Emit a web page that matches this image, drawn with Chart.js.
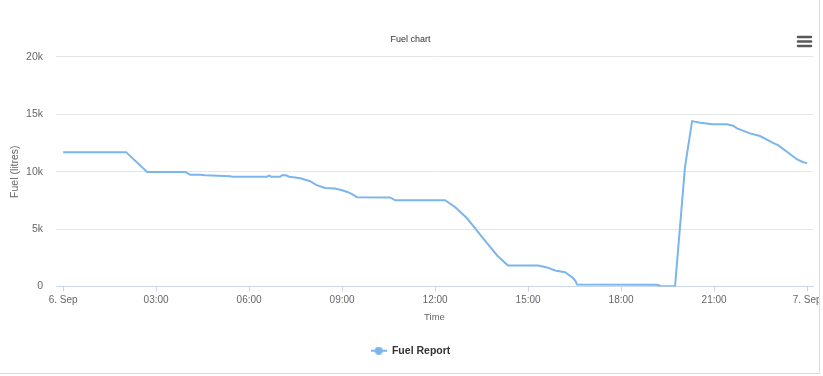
<!DOCTYPE html>
<html>
<head>
<meta charset="utf-8">
<script src="https://cdn.jsdelivr.net/npm/chart.js@4"></script>
<style>
  body { margin: 0; background: #fff; }
  #wrap { width: 819px; height: 373px; border-right: 1px solid #dcdcdc; border-bottom: 1px solid #dcdcdc; }
</style>
</head>
<body>
<div id="wrap"><canvas id="fuelChart" width="819" height="373"></canvas></div>
<script>
// Hours since 6 Sep 00:00 and fuel level (litres)
const hours = [
  0, 2.03, 2.71, 3.94, 4.10, 4.42, 4.58, 5.39, 5.45, 6.58, 6.65, 6.71, 7.0, 7.06, 7.19, 7.29,
  7.42, 7.65, 7.97, 8.16, 8.45, 8.77, 9.0, 9.19, 9.32, 9.48, 10.55, 10.71, 12.32, 12.65,
  13.03, 13.55, 14.0, 14.35, 15.32, 15.61, 15.87, 16.19, 16.42, 16.52, 16.58, 19.16, 19.29,
  19.74, 20.06, 20.29, 20.55, 20.94, 21.42, 21.61, 21.74, 22.16, 22.48, 22.9, 23.06, 23.35,
  23.68, 23.84, 24.0
];
const fuel = [
  11700, 11700, 9980, 9980, 9720, 9720, 9680, 9600, 9560, 9560, 9650, 9560, 9560, 9680, 9680, 9560,
  9520, 9420, 9170, 8850, 8580, 8540, 8380, 8210, 8040, 7780, 7760, 7510, 7510, 6900,
  5940, 4190, 2700, 1830, 1830, 1660, 1400, 1250, 810, 520, 170, 150, 30,
  30, 10390, 14400, 14260, 14120, 14120, 14000, 13770, 13330, 13100, 12510, 12310, 11730,
  11060, 10860, 10720
];

// Trục thời gian
const tickHours = [0, 3, 6, 9, 12, 15, 18, 21, 24];
const tickLabels = ['6. Sep', '03:00', '06:00', '09:00', '12:00', '15:00', '18:00', '21:00', '7. Sep'];

const lineColor = '#7cb5ec';
const fontFamily = '"Liberation Sans", Arial, Helvetica, sans-serif';

// Ký hiệu chú giải: đường kẻ + chấm tròn
const legendSymbol = document.createElement('canvas');
legendSymbol.width = 16;
legendSymbol.height = 8;
(function () {
  const c = legendSymbol.getContext('2d');
  c.strokeStyle = lineColor;
  c.lineWidth = 2;
  c.beginPath();
  c.moveTo(0, 4);
  c.lineTo(16, 4);
  c.stroke();
  c.fillStyle = lineColor;
  c.beginPath();
  c.arc(8, 4, 4, 0, Math.PI * 2);
  c.fill();
})();

// Nút menu (3 gạch)
const menuIcon = {
  id: 'menuIcon',
  afterDraw(chart) {
    const ctx = chart.ctx;
    ctx.save();
    ctx.strokeStyle = '#595959';
    ctx.lineWidth = 2.5;
    ctx.lineCap = 'round';
    [37, 41.5, 46].forEach(y => {
      ctx.beginPath();
      ctx.moveTo(798, y);
      ctx.lineTo(811, y);
      ctx.stroke();
    });
    ctx.restore();
  }
};

new Chart(document.getElementById('fuelChart'), {
  type: 'line',
  data: {
    datasets: [{
      label: 'Fuel Report',
      data: hours.map((h, i) => ({ x: h, y: fuel[i] })),
      borderColor: lineColor,
      backgroundColor: lineColor,
      borderWidth: 2,
      pointRadius: 0,
      tension: 0
    }]
  },
  options: {
    responsive: false,
    animation: false,
    layout: { padding: { left: 8, right: 6, top: 0, bottom: 7 } },
    plugins: {
      title: {
        display: true,
        text: 'Fuel chart',
        color: '#333',
        font: { family: fontFamily, size: 9, weight: 'normal' },
        padding: { top: 34, bottom: 12 }
      },
      legend: {
        position: 'bottom',
        labels: {
          usePointStyle: true,
          pointStyle: legendSymbol,
          pointStyleWidth: 16,
          padding: 22,
          color: '#333',
          font: { family: fontFamily, size: 10.5, weight: 'bold' }
        }
      },
      tooltip: { enabled: false }
    },
    scales: {
      x: {
        type: 'linear',
        min: -0.23,
        max: 24.19,
        afterBuildTicks: axis => { axis.ticks = tickHours.map(v => ({ value: v })); },
        afterFit: axis => { axis.height = 37; axis.paddingLeft = 0; axis.paddingRight = 0; },
        grid: { drawOnChartArea: false, drawTicks: true, tickLength: 5, color: '#ccd6eb' },
        border: { color: '#ccd6eb', width: 1 },
        ticks: {
          maxRotation: 0,
          autoSkip: false,
          padding: 3,
          color: '#666',
          font: { family: fontFamily, size: 10 },
          callback: v => tickLabels[tickHours.indexOf(v)]
        },
        title: {
          display: true,
          text: 'Time',
          color: '#666',
          font: { family: fontFamily, size: 9.5 },
          padding: { top: 0, bottom: 0 }
        }
      },
      y: {
        min: 0,
        max: 20000,
        afterFit: axis => { axis.width = 48; axis.paddingTop = 0; axis.paddingBottom = 0; },
        grid: { color: '#e6e6e6', drawTicks: false },
        border: { display: false },
        ticks: {
          stepSize: 5000,
          padding: 13,
          color: '#666',
          font: { family: fontFamily, size: 10.5 },
          callback: v => v === 0 ? '0' : (v / 1000) + 'k'
        },
        title: {
          display: true,
          text: 'Fuel (litres)',
          color: '#666',
          font: { family: fontFamily, size: 10.5 },
          padding: { top: 1, bottom: 0 }
        }
      }
    }
  },
  plugins: [menuIcon]
});
</script>
</body>
</html>
